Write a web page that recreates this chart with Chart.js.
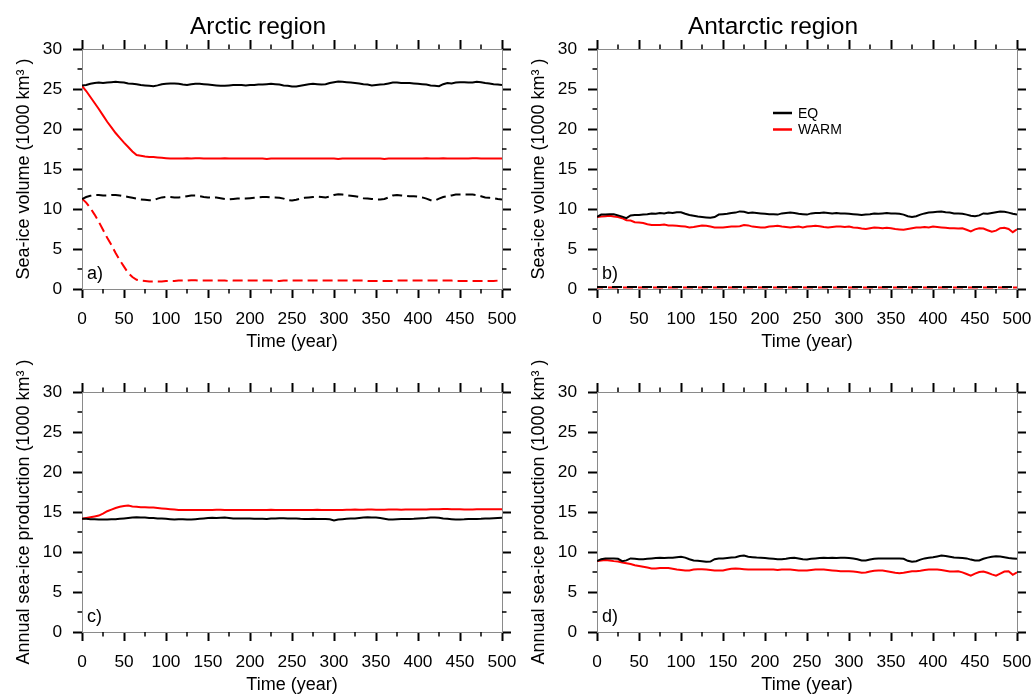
<!DOCTYPE html>
<html><head><meta charset="utf-8">
<script src="https://cdn.jsdelivr.net/npm/chart.js@4.4.1/dist/chart.umd.min.js"></script>
<style>
html,body{margin:0;padding:0;background:#fff;overflow:hidden;width:1031px;height:696px;}
canvas{position:absolute;}
</style></head><body>
<canvas id="pa" width="516" height="360" style="left:0px;top:0px"></canvas>
<canvas id="pb" width="516" height="360" style="left:515px;top:0px"></canvas>
<canvas id="pc" width="516" height="360" style="left:0px;top:343px"></canvas>
<canvas id="pd" width="516" height="360" style="left:515px;top:343px"></canvas>
<script>
const years = [
0,5,10,15,20,25,30,35,40,45,
50,55,60,65,70,75,80,85,90,95,
100,105,110,115,120,125,130,135,140,145,
150,155,160,165,170,175,180,185,190,195,
200,205,210,215,220,225,230,235,240,245,
250,255,260,265,270,275,280,285,290,295,
300,305,310,315,320,325,330,335,340,345,
350,355,360,365,370,375,380,385,390,395,
400,405,410,415,420,425,430,435,440,445,
450,455,460,465,470,475,480,485,490,495,
500];

// Panel a) Arctic sea-ice volume (solid) and dashed companion series
const arcticEqVol = [
25.45,25.5,25.65,25.75,25.8,25.75,25.8,25.85,25.9,25.85,
25.8,25.7,25.65,25.6,25.5,25.45,25.4,25.35,25.45,25.6,
25.65,25.7,25.7,25.65,25.55,25.5,25.6,25.65,25.65,25.6,
25.55,25.5,25.45,25.4,25.4,25.45,25.5,25.5,25.5,25.45,
25.5,25.5,25.55,25.55,25.6,25.65,25.6,25.55,25.45,25.4,
25.3,25.3,25.4,25.5,25.6,25.65,25.6,25.55,25.6,25.75,
25.85,25.95,25.9,25.85,25.8,25.75,25.7,25.6,25.55,25.45,
25.5,25.55,25.6,25.7,25.8,25.8,25.75,25.75,25.75,25.7,
25.65,25.6,25.55,25.45,25.4,25.35,25.6,25.75,25.7,25.8,
25.85,25.85,25.8,25.8,25.9,25.85,25.75,25.7,25.6,25.55,
25.5];
const arcticWarmVol = [
25.4,24.75,24.0,23.25,22.5,21.7,20.9,20.2,19.5,18.9,
18.3,17.75,17.2,16.75,16.65,16.55,16.5,16.5,16.45,16.4,
16.35,16.3,16.3,16.3,16.3,16.35,16.3,16.35,16.35,16.3,
16.3,16.3,16.3,16.3,16.35,16.3,16.3,16.3,16.3,16.3,
16.3,16.3,16.3,16.3,16.25,16.3,16.3,16.3,16.3,16.3,
16.3,16.3,16.3,16.3,16.3,16.3,16.3,16.3,16.3,16.3,
16.3,16.25,16.3,16.3,16.3,16.3,16.3,16.3,16.3,16.3,
16.3,16.3,16.25,16.3,16.3,16.3,16.3,16.3,16.3,16.3,
16.3,16.3,16.35,16.3,16.3,16.3,16.35,16.3,16.3,16.3,
16.3,16.3,16.3,16.35,16.35,16.3,16.3,16.3,16.3,16.3,
16.3];
const arcticEqDash = [
11.25,11.5,11.65,11.75,11.75,11.7,11.7,11.75,11.75,11.7,
11.6,11.5,11.4,11.3,11.2,11.15,11.1,11.1,11.3,11.45,
11.5,11.5,11.45,11.45,11.5,11.6,11.7,11.7,11.6,11.5,
11.45,11.4,11.45,11.35,11.25,11.2,11.25,11.3,11.3,11.3,
11.35,11.4,11.45,11.5,11.5,11.45,11.45,11.4,11.3,11.1,
11.05,11.15,11.3,11.4,11.45,11.5,11.55,11.5,11.45,11.55,
11.75,11.85,11.8,11.7,11.65,11.6,11.5,11.35,11.3,11.25,
11.2,11.2,11.25,11.45,11.7,11.75,11.7,11.65,11.6,11.6,
11.55,11.45,11.3,11.1,11.05,11.3,11.5,11.6,11.7,11.8,
11.8,11.8,11.8,11.8,11.75,11.6,11.45,11.4,11.35,11.25,
11.2];
const arcticWarmDash = [
11.3,10.8,10.1,9.3,8.4,7.4,6.4,5.5,4.5,3.6,
2.8,2.0,1.5,1.15,1.05,1.0,0.95,0.95,0.95,0.95,
1.0,1.0,1.0,1.05,1.05,1.05,1.1,1.1,1.05,1.05,
1.05,1.05,1.05,1.05,1.05,1.0,1.05,1.05,1.05,1.05,
1.05,1.05,1.05,1.05,1.05,1.05,1.0,1.0,1.05,1.05,
1.05,1.05,1.05,1.05,1.05,1.05,1.05,1.05,1.05,1.05,
1.05,1.05,1.05,1.05,1.05,1.05,1.05,1.05,1.0,1.0,
1.0,1.0,1.0,1.0,1.0,1.05,1.05,1.05,1.05,1.05,
1.05,1.05,1.05,1.05,1.05,1.05,1.05,1.05,1.05,1.0,
1.0,1.0,1.0,1.0,1.0,1.0,1.0,1.0,1.0,1.05,
1.05];

// Panel b) Antarctic sea-ice volume
const antEqVol = [
9.0,9.3,9.3,9.35,9.35,9.2,9.05,8.85,9.2,9.25,
9.25,9.3,9.35,9.45,9.4,9.5,9.45,9.55,9.5,9.6,
9.6,9.4,9.25,9.15,9.05,9.0,8.95,8.9,9.0,9.3,
9.35,9.4,9.5,9.55,9.7,9.65,9.5,9.55,9.5,9.45,
9.4,9.35,9.35,9.3,9.45,9.5,9.55,9.5,9.4,9.35,
9.3,9.45,9.5,9.5,9.55,9.5,9.45,9.5,9.45,9.45,
9.4,9.35,9.3,9.25,9.3,9.35,9.45,9.4,9.45,9.5,
9.45,9.45,9.4,9.3,9.1,9.0,9.1,9.3,9.45,9.55,
9.6,9.65,9.7,9.6,9.55,9.45,9.45,9.4,9.3,9.15,
9.1,9.2,9.45,9.4,9.5,9.6,9.7,9.65,9.55,9.4,
9.3];
const antWarmVol = [
9.0,9.05,9.1,9.15,9.05,9.0,8.85,8.6,8.55,8.35,
8.3,8.25,8.1,8.0,8.0,8.0,8.05,7.95,7.95,7.9,
7.85,7.8,7.7,7.75,7.85,7.95,7.9,7.8,7.7,7.7,
7.7,7.75,7.8,7.8,7.85,8.0,7.95,7.8,7.75,7.7,
7.7,7.8,7.85,7.9,7.8,7.75,7.7,7.75,7.8,7.7,
7.8,7.85,7.9,7.85,7.75,7.7,7.75,7.8,7.8,7.75,
7.8,7.7,7.65,7.55,7.5,7.6,7.7,7.65,7.6,7.65,
7.6,7.5,7.45,7.4,7.5,7.6,7.7,7.7,7.75,7.7,
7.8,7.75,7.7,7.65,7.6,7.6,7.55,7.6,7.4,7.2,
7.45,7.6,7.55,7.35,7.15,7.3,7.6,7.65,7.5,7.1,
7.45];
const antEqDash = [
0.25,0.25,0.25,0.25,0.25,0.25,0.25,0.25,0.25,0.25,
0.25,0.25,0.25,0.25,0.25,0.25,0.25,0.25,0.25,0.25,
0.25,0.25,0.25,0.25,0.25,0.25,0.25,0.25,0.25,0.25,
0.25,0.25,0.25,0.25,0.25,0.25,0.25,0.25,0.25,0.25,
0.25,0.25,0.25,0.25,0.25,0.25,0.25,0.25,0.25,0.25,
0.25,0.25,0.25,0.25,0.25,0.25,0.25,0.25,0.25,0.25,
0.25,0.25,0.25,0.25,0.25,0.25,0.25,0.25,0.25,0.25,
0.25,0.25,0.25,0.25,0.25,0.25,0.25,0.25,0.25,0.25,
0.25,0.25,0.25,0.25,0.25,0.25,0.25,0.25,0.25,0.25,
0.25,0.25,0.25,0.25,0.25,0.25,0.25,0.25,0.25,0.25,
0.25];
const antWarmDash = [
0.2,0.2,0.2,0.2,0.2,0.2,0.2,0.2,0.2,0.2,
0.2,0.2,0.2,0.2,0.2,0.2,0.2,0.2,0.2,0.2,
0.2,0.2,0.2,0.2,0.2,0.2,0.2,0.2,0.2,0.2,
0.2,0.2,0.2,0.2,0.2,0.2,0.2,0.2,0.2,0.2,
0.2,0.2,0.2,0.2,0.2,0.2,0.2,0.2,0.2,0.2,
0.2,0.2,0.2,0.2,0.2,0.2,0.2,0.2,0.2,0.2,
0.2,0.2,0.2,0.2,0.2,0.2,0.2,0.2,0.2,0.2,
0.2,0.2,0.2,0.2,0.2,0.2,0.2,0.2,0.2,0.2,
0.2,0.2,0.2,0.2,0.2,0.2,0.2,0.2,0.2,0.2,
0.2,0.2,0.2,0.2,0.2,0.2,0.2,0.2,0.2,0.2,
0.2];

// Panel c) Arctic annual sea-ice production
const arcticEqProd = [
14.15,14.15,14.1,14.1,14.05,14.05,14.05,14.1,14.1,14.15,
14.2,14.25,14.3,14.35,14.3,14.3,14.25,14.25,14.2,14.2,
14.15,14.1,14.05,14.1,14.1,14.05,14.05,14.1,14.15,14.2,
14.25,14.27,14.25,14.27,14.3,14.25,14.2,14.2,14.18,14.18,
14.18,14.15,14.15,14.15,14.14,14.18,14.2,14.22,14.22,14.2,
14.2,14.18,14.15,14.14,14.14,14.15,14.14,14.14,14.14,14.1,
13.95,14.05,14.1,14.15,14.18,14.2,14.25,14.3,14.35,14.32,
14.3,14.25,14.15,14.06,14.06,14.1,14.12,14.14,14.14,14.15,
14.18,14.22,14.25,14.3,14.3,14.28,14.2,14.15,14.1,14.06,
14.06,14.08,14.12,14.14,14.14,14.15,14.18,14.2,14.22,14.25,
14.27];
const arcticWarmProd = [
14.15,14.25,14.35,14.45,14.55,14.8,15.1,15.3,15.5,15.65,
15.75,15.8,15.7,15.65,15.6,15.6,15.55,15.55,15.5,15.45,
15.4,15.35,15.3,15.25,15.25,15.25,15.25,15.25,15.25,15.25,
15.25,15.25,15.28,15.28,15.25,15.25,15.25,15.25,15.25,15.25,
15.25,15.25,15.25,15.25,15.25,15.28,15.25,15.25,15.25,15.25,
15.25,15.25,15.25,15.25,15.25,15.25,15.28,15.25,15.25,15.25,
15.25,15.25,15.25,15.28,15.28,15.3,15.28,15.28,15.3,15.3,
15.28,15.28,15.28,15.3,15.3,15.3,15.28,15.3,15.3,15.3,
15.3,15.32,15.32,15.35,15.35,15.35,15.38,15.38,15.35,15.35,
15.35,15.3,15.3,15.3,15.33,15.35,15.35,15.35,15.35,15.35,
15.35];

// Panel d) Antarctic annual sea-ice production
const antEqProd = [
8.86,9.1,9.2,9.2,9.2,9.15,8.86,8.95,9.2,9.15,
9.1,9.1,9.15,9.2,9.25,9.27,9.25,9.27,9.27,9.35,
9.4,9.3,9.1,8.94,8.9,8.85,8.77,8.8,9.1,9.2,
9.2,9.25,9.3,9.35,9.5,9.55,9.4,9.35,9.3,9.27,
9.25,9.2,9.15,9.1,9.1,9.15,9.25,9.27,9.2,9.1,
9.06,9.15,9.2,9.25,9.27,9.25,9.27,9.25,9.27,9.27,
9.25,9.2,9.1,8.94,8.95,9.05,9.15,9.2,9.2,9.2,
9.2,9.2,9.2,9.15,8.9,8.77,8.85,9.05,9.2,9.27,
9.35,9.45,9.55,9.5,9.4,9.3,9.27,9.25,9.2,9.05,
8.94,8.95,9.15,9.3,9.4,9.48,9.45,9.35,9.25,9.2,
9.15];
const antWarmProd = [
8.86,8.95,9.0,8.95,8.86,8.8,8.7,8.6,8.5,8.35,
8.25,8.15,8.05,7.95,7.95,8.0,8.0,8.0,7.9,7.8,
7.75,7.7,7.7,7.8,7.85,7.85,7.8,7.75,7.7,7.7,
7.7,7.8,7.9,7.95,7.9,7.85,7.8,7.8,7.8,7.8,
7.8,7.8,7.8,7.75,7.8,7.8,7.8,7.75,7.7,7.7,
7.7,7.75,7.8,7.8,7.8,7.75,7.7,7.65,7.6,7.6,
7.6,7.55,7.5,7.4,7.45,7.55,7.65,7.7,7.7,7.6,
7.5,7.4,7.35,7.4,7.5,7.6,7.6,7.65,7.75,7.8,
7.8,7.8,7.75,7.65,7.55,7.55,7.6,7.45,7.25,7.05,
7.3,7.5,7.55,7.4,7.2,7.05,7.3,7.55,7.6,7.15,
7.45];

const seriesNames = ['EQ', 'WARM'];
const panelTitles = ['Arctic region', 'Antarctic region'];
const yTitles = ['Sea-ice volume (1000 km\u00B3 )', 'Annual sea-ice production (1000 km\u00B3 )'];
const xTitle = 'Time (year)';
const panelLabels = ['a)', 'b)', 'c)', 'd)'];

const FONT = '"Liberation Sans", Arial, Helvetica, sans-serif';
Chart.defaults.font.family = FONT;
Chart.defaults.color = '#000';

const RED = '#ff0000', BLACK = '#000000';

function pts(vals) { return vals.map((v, i) => ({x: years[i], y: v})); }
function line(label, vals, color, dash, dashOffset) {
  return {label: label, data: pts(vals), borderColor: color, backgroundColor: color,
    borderWidth: 2, pointRadius: 0, tension: 0, fill: false,
    borderDash: dash || [], borderDashOffset: dashOffset || 0};
}

const minorTicks = {
  id: 'minorTicks',
  afterDraw(chart) {
    const {ctx, chartArea: ca, scales} = chart;
    const x = scales.x, y = scales.y;
    ctx.save();
    ctx.strokeStyle = '#000';
    ctx.lineWidth = 1.5;
    ctx.beginPath();
    for (let v = 25; v < 500; v += 50) {
      const px = x.getPixelForValue(v);
      ctx.moveTo(px, ca.bottom); ctx.lineTo(px, ca.bottom + 4.5);
      ctx.moveTo(px, ca.top); ctx.lineTo(px, ca.top - 4.5);
    }
    for (let v = 2.5; v < 30; v += 5) {
      const py = y.getPixelForValue(v);
      ctx.moveTo(ca.left - 4.5, py); ctx.lineTo(ca.left, py);
      ctx.moveTo(ca.right, py); ctx.lineTo(ca.right + 4.5, py);
    }
    ctx.stroke();
    ctx.restore();
  }
};

const annot = {
  id: 'annot',
  afterDatasetsDraw(chart, args, o) {
    const {ctx, chartArea: ca} = chart;
    ctx.save();
    ctx.fillStyle = '#000';
    ctx.textAlign = 'left';
    ctx.textBaseline = 'alphabetic';
    ctx.font = '18px ' + FONT;
    ctx.fillText(o.label, ca.left + 5, ca.bottom - 10);
    if (o.legend) {
      ctx.font = '14px ' + FONT;
      ctx.textBaseline = 'middle';
      [0, 1].forEach((k) => {
        const ds = chart.data.datasets[k];
        const yy = ca.top + 64 + k * 16.5;
        ctx.strokeStyle = ds.borderColor;
        ctx.lineWidth = 2.5;
        ctx.beginPath();
        ctx.moveTo(ca.left + 176, yy); ctx.lineTo(ca.left + 195, yy);
        ctx.stroke();
        ctx.fillText(ds.label, ca.left + 201, yy + 1);
      });
    }
    ctx.restore();
  }
};

function zero(s) { s.paddingLeft = 0; s.paddingRight = 0; s.paddingTop = 0; s.paddingBottom = 0; }

function scalesCfg(yTitle, topH) {
  const grid = {display: true, drawOnChartArea: false, drawTicks: true, tickLength: 9, tickColor: '#000', tickWidth: 2};
  const border = {display: true, color: '#8a8a8a', width: 1};
  const tickFont = {size: 17.3};
  return {
    x: {type: 'linear', position: 'bottom', min: 0, max: 500,
        ticks: {stepSize: 50, font: tickFont, color: '#000', padding: 11, maxRotation: 0, autoSkip: false},
        grid: grid, border: border,
        title: {display: true, text: xTitle, font: {size: 18}, color: '#000', padding: {top: 0, bottom: 6.7}},
        afterFit(s) { s.height = 71; zero(s); }},
    x2: {type: 'linear', position: 'top', min: 0, max: 500,
        ticks: {stepSize: 50, display: false}, grid: grid, border: border,
        afterFit(s) { s.height = topH; zero(s); }},
    y: {type: 'linear', position: 'left', min: 0, max: 30,
        ticks: {stepSize: 5, font: tickFont, color: '#000', padding: 11},
        grid: grid, border: border,
        title: {display: true, text: yTitle, font: {size: 18}, color: '#000', padding: {top: 13.5, bottom: 0}},
        afterFit(s) { s.width = 82; zero(s); }},
    y2: {type: 'linear', position: 'right', min: 0, max: 30,
        ticks: {stepSize: 5, display: false}, grid: grid, border: border,
        afterFit(s) { s.width = 14; zero(s); }}
  };
}

function makePanel(id, title, yTitle, label, datasets, legend) {
  new Chart(document.getElementById(id), {
    type: 'line',
    data: {datasets: datasets},
    options: {
      responsive: false, animation: false, devicePixelRatio: 1,
      layout: {padding: {top: title ? 0 : 40, left: 0, right: 0, bottom: 0}},
      plugins: {
        legend: {display: false},
        tooltip: {enabled: false},
        title: {display: !!title, text: title || '', font: {size: 24.5, weight: 'normal'}, color: '#000', padding: {top: 12.5, bottom: 0}},
        annot: {label: label, legend: legend}
      },
      scales: scalesCfg(yTitle, title ? 49 - 12.5 - 24.5 * 1.2 : 9)
    },
    plugins: [minorTicks, annot]
  });
}

makePanel('pa', panelTitles[0], yTitles[0], panelLabels[0], [
  line(seriesNames[0], arcticEqVol, BLACK),
  line(seriesNames[1], arcticWarmVol, RED),
  line(seriesNames[0], arcticEqDash, BLACK, [10, 5]),
  line(seriesNames[1], arcticWarmDash, RED, [10, 5])
], false);

makePanel('pb', panelTitles[1], yTitles[0], panelLabels[1], [
  line(seriesNames[0], antEqVol, BLACK),
  line(seriesNames[1], antWarmVol, RED),
  line(seriesNames[0], antEqDash, BLACK, [10, 5]),
  line(seriesNames[1], antWarmDash, RED, [10, 5], 4)
], true);

makePanel('pc', null, yTitles[1], panelLabels[2], [
  line(seriesNames[0], arcticEqProd, BLACK),
  line(seriesNames[1], arcticWarmProd, RED)
], false);

makePanel('pd', null, yTitles[1], panelLabels[3], [
  line(seriesNames[0], antEqProd, BLACK),
  line(seriesNames[1], antWarmProd, RED)
], false);
</script>
</body></html>
